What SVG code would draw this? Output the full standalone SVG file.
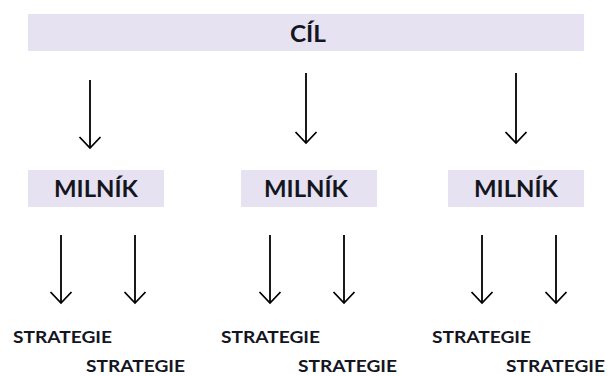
<svg xmlns="http://www.w3.org/2000/svg" width="608" height="376" viewBox="0 0 608 376">
<style>
.box{fill:#E6E2F1}
.t{font-family:Lato,"Noto Sans",sans-serif;font-weight:bold;fill:#15151f}
.big{font-size:22.5px;text-anchor:middle}
.s{font-size:17px}
.c{stroke:#000;stroke-width:1.8;fill:none;marker-end:url(#ah)}
</style>
<defs>
<marker id="ah" markerUnits="userSpaceOnUse" markerWidth="30" markerHeight="30" viewBox="-15 -15 30 30" refX="0" refY="0" orient="auto">
<path d="M-11,-10.5 L0,0 L-11,10.5" fill="none" stroke="#000" stroke-width="1.8"/>
</marker>
</defs>
<g id="cil">
<rect class="box" x="28" y="14" width="556" height="37"/>
<text class="t big" x="308" y="41.5" textLength="36" lengthAdjust="spacingAndGlyphs">CÍL</text>
</g>
<g id="milnik1">
<rect class="box" x="28" y="170" width="136" height="37"/>
<text class="t big" x="96" y="196.5" textLength="84" lengthAdjust="spacingAndGlyphs">MILNÍK</text>
</g>
<g id="milnik2">
<rect class="box" x="241" y="170" width="136" height="37"/>
<text class="t big" x="306" y="196.5" textLength="84" lengthAdjust="spacingAndGlyphs">MILNÍK</text>
</g>
<g id="milnik3">
<rect class="box" x="448" y="170" width="136" height="37"/>
<text class="t big" x="516" y="196.5" textLength="84" lengthAdjust="spacingAndGlyphs">MILNÍK</text>
</g>
<g id="strategie1a"><text class="t s" x="13" y="343" textLength="99" lengthAdjust="spacingAndGlyphs">STRATEGIE</text></g>
<g id="strategie1b"><text class="t s" x="86" y="372" textLength="99" lengthAdjust="spacingAndGlyphs">STRATEGIE</text></g>
<g id="strategie2a"><text class="t s" x="221" y="343" textLength="99" lengthAdjust="spacingAndGlyphs">STRATEGIE</text></g>
<g id="strategie2b"><text class="t s" x="298" y="372" textLength="99" lengthAdjust="spacingAndGlyphs">STRATEGIE</text></g>
<g id="strategie3a"><text class="t s" x="432" y="343" textLength="99" lengthAdjust="spacingAndGlyphs">STRATEGIE</text></g>
<g id="strategie3b"><text class="t s" x="506" y="372" textLength="99" lengthAdjust="spacingAndGlyphs">STRATEGIE</text></g>
<g id="connectors">
<line class="c" x1="90" y1="80" x2="90" y2="148"/>
<line class="c" x1="306" y1="73" x2="306" y2="143"/>
<line class="c" x1="516" y1="73" x2="516" y2="143"/>
<line class="c" x1="61" y1="235" x2="61" y2="303"/>
<line class="c" x1="135" y1="235" x2="135" y2="303"/>
<line class="c" x1="270" y1="235" x2="270" y2="303"/>
<line class="c" x1="344" y1="235" x2="344" y2="303"/>
<line class="c" x1="482" y1="235" x2="482" y2="303"/>
<line class="c" x1="556" y1="235" x2="556" y2="303"/>
</g>
</svg>
